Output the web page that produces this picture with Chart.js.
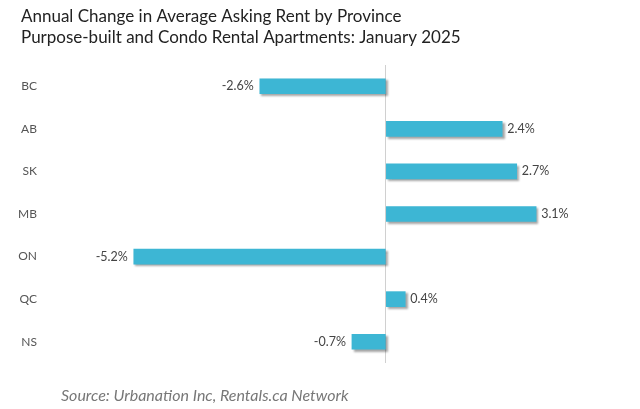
<!DOCTYPE html>
<html>
<head>
<meta charset="utf-8">
<script src="https://cdn.jsdelivr.net/npm/chart.js@4"></script>
<style>
  html, body { margin: 0; padding: 0; background: #fff; }
  #wrap { width: 640px; height: 409px; }
</style>
</head>
<body>
<div id="wrap"><canvas id="rentChart" width="640" height="409"></canvas></div>
<script>
const provinces = ["BC", "AB", "SK", "MB", "ON", "QC", "NS"];
const rentChange = [-2.6, 2.4, 2.7, 3.1, -5.2, 0.4, -0.7];
const titleLines = [
  "Annual Change in Average Asking Rent by Province",
  "Purpose-built and Condo Rental Apartments: January 2025"
];
const sourceText = "Source: Urbanation Inc, Rentals.ca Network";

const canvas = document.getElementById("rentChart");

const textPlugin = {
  id: "texts",
  beforeDatasetsDraw(chart) {
    const c = chart.ctx;
    c.save();
    c.shadowColor = "rgba(0,0,0,0.35)";
    c.shadowOffsetX = 2;
    c.shadowOffsetY = 2;
    c.shadowBlur = 2;
  },
  afterDatasetsDraw(chart) {
    const c = chart.ctx;
    c.restore();
    const meta = chart.getDatasetMeta(0);
    c.save();
    c.font = "12.5px Lato, 'Open Sans', sans-serif";
    c.fillStyle = "#444";
    c.textBaseline = "middle";
    meta.data.forEach((bar, i) => {
      const v = rentChange[i];
      const label = v.toFixed(1) + "%";
      if (v >= 0) {
        c.textAlign = "left";
        c.fillText(label, bar.x + 5, bar.y);
      } else {
        c.textAlign = "right";
        c.fillText(label, bar.x - 6, bar.y);
      }
    });
    c.restore();
  },
  afterDraw(chart) {
    const c = chart.ctx;
    c.save();
    c.fillStyle = "#222";
    c.font = "17px Lato, 'Open Sans', sans-serif";
    c.textAlign = "left";
    c.textBaseline = "middle";
    c.fillText(titleLines[0], 21, 17);
    c.fillText(titleLines[1], 21, 38);
    c.fillStyle = "#777";
    c.font = "italic 16px Lato, 'Open Sans', sans-serif";
    c.fillText(sourceText, 61, 396);
    c.restore();
  }
};

new Chart(canvas, {
  type: "bar",
  data: {
    labels: provinces,
    datasets: [
      {
        data: rentChange,
        backgroundColor: "#3db6d4",
        borderWidth: 0,
        barThickness: 15,
      },
    ],
  },
  options: {
    indexAxis: "y",
    responsive: false,
    animation: false,
    layout: { padding: { top: 65, bottom: 46, left: 0, right: 36 } },
    plugins: {
      legend: { display: false },
      tooltip: { enabled: false },
    },
    scales: {
      x: {
        min: -6,
        max: 4.5,
        afterFit(scale) { scale.height = 0; },
        ticks: { display: false, stepSize: 1 },
        border: { display: false },
        grid: {
          drawTicks: false,
          color: (ctx) => (ctx.tick && ctx.tick.value === 0 ? "#d0d0d0" : "rgba(0,0,0,0)"),
        },
      },
      y: {
        afterFit(scale) {
          scale.width = 95;
          scale.paddingTop = 0;
          scale.paddingBottom = 0;
        },
        border: { display: false },
        grid: { display: false },
        ticks: {
          padding: 50,
          color: "#555",
          font: { size: 12, family: "Lato, 'Open Sans', sans-serif" },
        },
      },
    },
  },
  plugins: [textPlugin],
});
</script>
</body>
</html>
